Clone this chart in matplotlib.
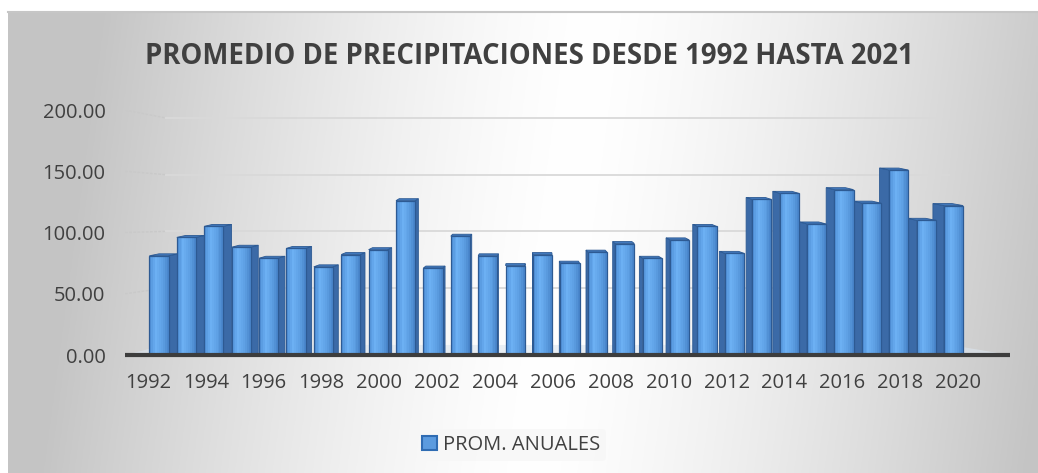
import numpy as np
import matplotlib.pyplot as plt
from matplotlib.patches import Patch
from matplotlib.colors import to_rgb

# --- data ---
years = list(range(1992, 2022))
prom_anuales = [81, 96, 105, 88, 79, 87, 72, 82, 86, 126,
                71, 97, 81, 73, 82, 75, 84, 91, 79, 94,
                105, 83, 127, 132, 107, 135, 124, 151, 110, 122]
y_ticks = [0, 50, 100, 150, 200]
x_ticks = list(range(1992, 2021, 2))
title = "PROMEDIO DE PRECIPITACIONES DESDE 1992 HASTA 2021"
legend_label = "PROM. ANUALES"

FONT = "Open Sans"
TXT = "#404040"


def back_wall(v):
    # gridlines sit on the back wall, a bit compressed compared to the labels
    return 8.2 + 0.927 * v


def draw_chart():
    W, H = 1038, 473
    fig = plt.figure(figsize=(W / 100, H / 100), dpi=100)
    fig.patch.set_facecolor("white")

    # 1. gradient background of the chart area
    bg = fig.add_axes([8 / W, 0, (W - 8) / W, (H - 12) / H])
    u = np.linspace(0, 1, 400)
    v = np.linspace(0, 1, 200)
    U, V = np.meshgrid(u, v)
    d = np.clip(np.abs(U - 0.54 + 0.06 * (V - 0.5)) / 0.48, 0, 1)
    g = 1.0 - 0.23 * d ** 1.4
    bg.imshow(np.dstack([g, g, g]), aspect="auto", extent=[0, 1, 0, 1])
    bg.set_xlim(0, 1)
    bg.set_ylim(0, 1)
    bg.axis("off")
    bg.plot([0, 1], [1, 1], color="#c6c6c6", lw=1.5, transform=bg.transAxes, clip_on=False)

    # 2. plot area
    left, right, bottom, top = 125, 1010, 355, 110
    ax = fig.add_axes([left / W, (H - bottom) / H, (right - left) / W, (bottom - top) / H])
    ax.patch.set_alpha(0)
    x0, x1 = 1990.76, 2023.06
    ax.set_xlim(x0, x1)
    ax.set_ylim(0, 200)
    for s in ax.spines.values():
        s.set_visible(False)

    px = (x1 - x0) / (right - left)
    wall_l = x0 + 40 * px
    wall_r = x0 + 825 * px

    # back wall gridlines + left wall segments
    for t in y_ticks[1:]:
        ax.hlines(back_wall(t), wall_l, wall_r, color="#d9d9d9", lw=1.3, zorder=1)
        ax.plot([x0, wall_l], [t, back_wall(t)], color="#c9c9c9", lw=1,
                ls=(0, (2, 1)), zorder=1)

    # floor
    ax.fill([x0, x1, wall_r, wall_l], [0, 0, back_wall(0), back_wall(0)],
            color="#dbe5ef", alpha=0.6, lw=0, zorder=1)
    ax.plot([x0, x1], [0, 0], color="#3d3d3d", lw=3, solid_capstyle="butt",
            zorder=6, clip_on=False)

    # 3. bars drawn as pseudo 3D boxes
    fw = 0.70
    dy = 1.6
    centre = 13.5
    side_c = "#3b6aa7"
    top_c = "#4279bd"
    edge_c = "#2d5a93"

    # sides and tops first, they are behind the front faces
    for i, (yr, val) in enumerate(zip(years, prom_anuales)):
        s = 0.026 * (centre - i)
        xl, xr = yr - fw / 2, yr + fw / 2
        xe = xr if s > 0 else xl
        ax.fill([xe, xe + s, xe + s, xe], [0, dy, val + dy, val],
                color=side_c, ec=edge_c, lw=0.6, zorder=2)
        ax.fill([xl, xr, xr + s, xl + s], [val, val, val + dy, val + dy],
                color=top_c, ec=edge_c, lw=0.6, zorder=2.5)

    # front faces as a horizontal gradient of thin bars
    c_stops = [to_rgb("#4e8ed6"), to_rgb("#6cb0f3"), to_rgb("#5d9fe3"), to_rgb("#4682c8")]
    p_stops = [0.0, 0.35, 0.7, 1.0]
    n = 10
    for k in range(n):
        f = (k + 0.5) / n
        col = [np.interp(f, p_stops, [c[j] for c in c_stops]) for j in range(3)]
        ax.bar([yr - fw / 2 + f * fw for yr in years], prom_anuales, width=fw / n * 1.05,
               color=col, lw=0, zorder=3)
    ax.bar(years, prom_anuales, width=fw, fill=False, ec=edge_c, lw=0.9, zorder=3.5)

    # y axis
    ax.set_yticks(y_ticks)
    ax.set_yticklabels([f"{t:.2f}" for t in y_ticks], fontfamily=FONT, fontsize=14.5, color=TXT)
    ax.tick_params(axis="y", length=0, pad=14)
    ax.set_xticks([])

    # x labels: a twin axis stretched like the front edge of the floor
    ax2 = ax.twiny()
    ax2.set_xlim(1991.205, 2021.795)
    ax2.xaxis.set_ticks_position("bottom")
    ax2.set_xticks(x_ticks)
    ax2.set_xticklabels([str(t) for t in x_ticks], fontfamily=FONT, fontsize=14.5, color=TXT)
    ax2.tick_params(axis="x", length=0, pad=13)
    for s in ax2.spines.values():
        s.set_visible(False)

    # 4. title and legend
    fig.text(529 / W, 1 - 57 / H, title, ha="center", va="center",
             fontfamily=FONT, fontweight="bold", fontsize=19.8, color=TXT)

    handle = Patch(facecolor="#5b9bdf", edgecolor="#2f6cb3", lw=1.5)
    leg = fig.legend([handle], [legend_label], loc="center", bbox_to_anchor=(511 / W, 1 - 445 / H),
                     frameon=True, prop={"family": FONT, "size": 14.5},
                     handlelength=0.75, handleheight=0.75, handletextpad=0.3, borderpad=0.3)
    leg.get_frame().set_facecolor("#f7f7f7")
    leg.get_frame().set_edgecolor("none")
    for t in leg.get_texts():
        t.set_color(TXT)

    fig.savefig("out.png", dpi=100)


if __name__ == "__main__":
    draw_chart()
